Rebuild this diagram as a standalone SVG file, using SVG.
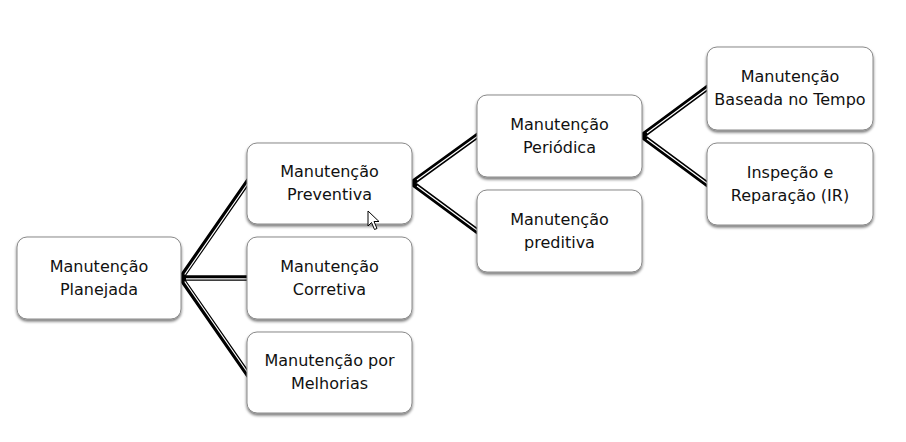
<svg xmlns="http://www.w3.org/2000/svg" width="906" height="442" viewBox="0 0 906 442">
<defs>
<filter id="sh" x="-10%" y="-10%" width="120%" height="130%">
<feGaussianBlur in="SourceAlpha" stdDeviation="1.6"/>
<feOffset dx="0" dy="2" result="b"/>
<feComponentTransfer><feFuncA type="linear" slope="0.55"/></feComponentTransfer>
<feMerge><feMergeNode/><feMergeNode in="SourceGraphic"/></feMerge>
</filter>
</defs>
<style>
.box{fill:#fff;stroke:#8a8a8a;stroke-width:1;filter:url(#sh)}
.t{font-family:"DejaVu Sans",sans-serif;font-size:16px;fill:#111;text-anchor:middle}
.co{fill:none;stroke:#000;stroke-width:5.5;stroke-linejoin:miter;stroke-miterlimit:10}
.ci{fill:none;stroke:#fff;stroke-width:1.2}
</style>
<rect width="906" height="442" fill="#fff"/>
<g id="connectors">
<path class="co" d="M249,180 L181,278 L249,376 M181,278 L249,278 M479,134.5 L412,183 L479,232.5 M709,86.5 L642,136 L709,185.5"/>
<path class="ci" d="M184.7,274.5 L249,181.5 M186,278.9 L249,278.9 M184.7,281.5 L249,374.5 M417,180 L479,135.2 M417,186 L479,231.8 M647,133 L709,87.2 M647,139 L709,184.8"/>
</g>
<g id="n-planejada"><rect class="box" x="17" y="237" width="164" height="82" rx="10"/><text class="t" x="99" y="272">Manutenção</text><text class="t" x="99" y="295">Planejada</text></g>
<g id="n-preventiva"><rect class="box" x="247" y="143" width="165" height="81" rx="10"/><text class="t" x="329.5" y="177">Manutenção</text><text class="t" x="329.5" y="200">Preventiva</text></g>
<g id="n-corretiva"><rect class="box" x="247" y="237" width="165" height="82" rx="10"/><text class="t" x="329.5" y="272">Manutenção</text><text class="t" x="329.5" y="295">Corretiva</text></g>
<g id="n-melhorias"><rect class="box" x="247" y="332" width="165" height="81" rx="10"/><text class="t" x="329.5" y="366">Manutenção por</text><text class="t" x="329.5" y="389">Melhorias</text></g>
<g id="n-periodica"><rect class="box" x="477" y="95" width="165" height="82" rx="10"/><text class="t" x="559.5" y="130">Manutenção</text><text class="t" x="559.5" y="153">Periódica</text></g>
<g id="n-preditiva"><rect class="box" x="477" y="190" width="165" height="82" rx="10"/><text class="t" x="559.5" y="225">Manutenção</text><text class="t" x="559.5" y="248">preditiva</text></g>
<g id="n-tempo"><rect class="box" x="707" y="47" width="166" height="83" rx="10"/><text class="t" x="790" y="82">Manutenção</text><text class="t" x="790" y="105">Baseada no Tempo</text></g>
<g id="n-ir"><rect class="box" x="707" y="143" width="166" height="82" rx="10"/><text class="t" x="790" y="178">Inspeção e</text><text class="t" x="790" y="201">Reparação (IR)</text></g>
<path d="M368,211 L368,226 L371.5,222.5 L374.5,229.5 L377,228.5 L374,221.5 L379,221.5 Z" fill="#fff" stroke="#000" stroke-width="1" stroke-linejoin="round"/>
</svg>
